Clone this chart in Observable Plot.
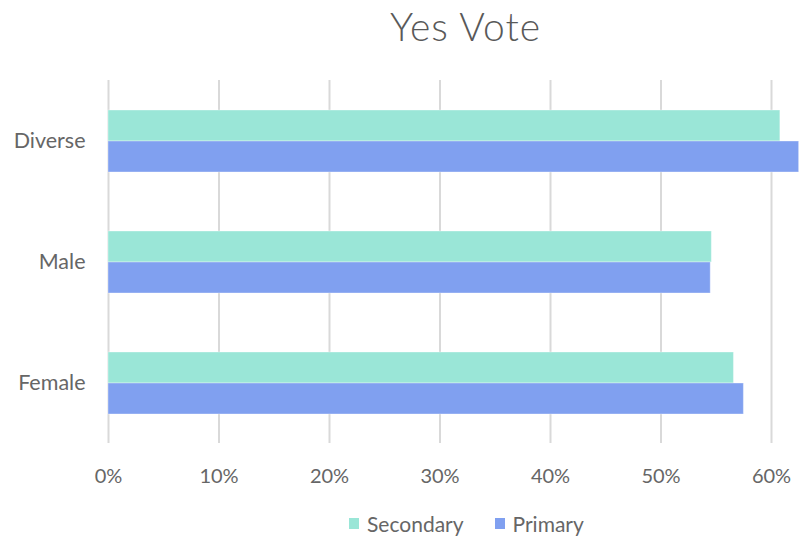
<!DOCTYPE html>
<html>
<head>
<meta charset="utf-8">
<script src="https://cdn.jsdelivr.net/npm/d3@7"></script>
<script src="https://cdn.jsdelivr.net/npm/@observablehq/plot@0.6"></script>
<style>
  body { margin: 0; background: #fff; font-family: Lato, "Open Sans", sans-serif; }
  #wrap { position: relative; width: 801px; height: 539px; overflow: hidden; }
  #title { position: absolute; top: 0; left: 0; width: 801px; height: 52px; text-align: center; font-size: 39px; font-weight: 300; color: #595959; line-height: 52px; padding-left: 130px; box-sizing: border-box; letter-spacing: 1px; }
  #chart { position: absolute; top: 50px; left: 0; }
  #legend { position: absolute; top: 511px; left: 349px; font-size: 21px; color: #666; display: flex; align-items: center; white-space: nowrap; }
  .sw { display: inline-block; width: 10px; height: 11px; margin-right: 8px; }
</style>
</head>
<body>
<div id="wrap">
  <div id="title">Yes Vote</div>
  <div id="chart"></div>
  <div id="legend"></div>
</div>
<script>
const categories = ["Diverse", "Male", "Female"];
const series = ["Secondary", "Primary"];
const secondaryValues = [0.608, 0.546, 0.566];
const primaryValues = [0.625, 0.545, 0.575];
const xTicks = [0, 0.1, 0.2, 0.3, 0.4, 0.5, 0.6];
const colors = ["#9AE6D7", "#80A0F0"];

const data = [];
categories.forEach((c, i) => {
  data.push({category: c, series: "Secondary", value: secondaryValues[i]});
  data.push({category: c, series: "Primary", value: primaryValues[i]});
});

const plot = Plot.plot({
  width: 801,
  height: 450,
  marginLeft: 108,
  marginRight: 30,
  marginTop: 30,
  marginBottom: 57,
  style: {fontFamily: "Lato, 'Open Sans', sans-serif", fontSize: "20px", color: "#666", background: "#fff"},
  x: {domain: [0, 0.6], label: null, axis: null},
  fy: {domain: categories, padding: 0, label: null, axis: null},
  y: {domain: series, paddingInner: 0, paddingOuter: 0.95, axis: null},
  color: {domain: series, range: colors},
  marks: [
    Plot.ruleX(xTicks, {stroke: "#d9d9d9", strokeWidth: 2, strokeOpacity: 1}),
    Plot.barX(data, {fy: "category", y: "series", x: "value", fill: "series", inset: 0, stroke: "#ffffff", strokeOpacity: 0.35, strokeWidth: 1}),
    Plot.axisX({ticks: xTicks, tickFormat: d3.format(".0%"), tickSize: 0, tickPadding: 25, fontSize: 20, fill: "#666", label: null, facetAnchor: "bottom", anchor: "bottom"}),
    Plot.axisFy({tickSize: 0, tickPadding: 23, fontSize: 21.5, fill: "#666", label: null, anchor: "left"})
  ]
});
document.getElementById("chart").appendChild(plot);

const legend = document.getElementById("legend");
series.forEach((s, i) => {
  const item = document.createElement("span");
  item.style.display = "inline-flex";
  item.style.alignItems = "center";
  item.style.marginRight = i === 0 ? "31px" : "0";
  const sw = document.createElement("span");
  sw.className = "sw";
  sw.style.background = colors[i];
  item.appendChild(sw);
  item.appendChild(document.createTextNode(s));
  legend.appendChild(item);
});
</script>
</body>
</html>
